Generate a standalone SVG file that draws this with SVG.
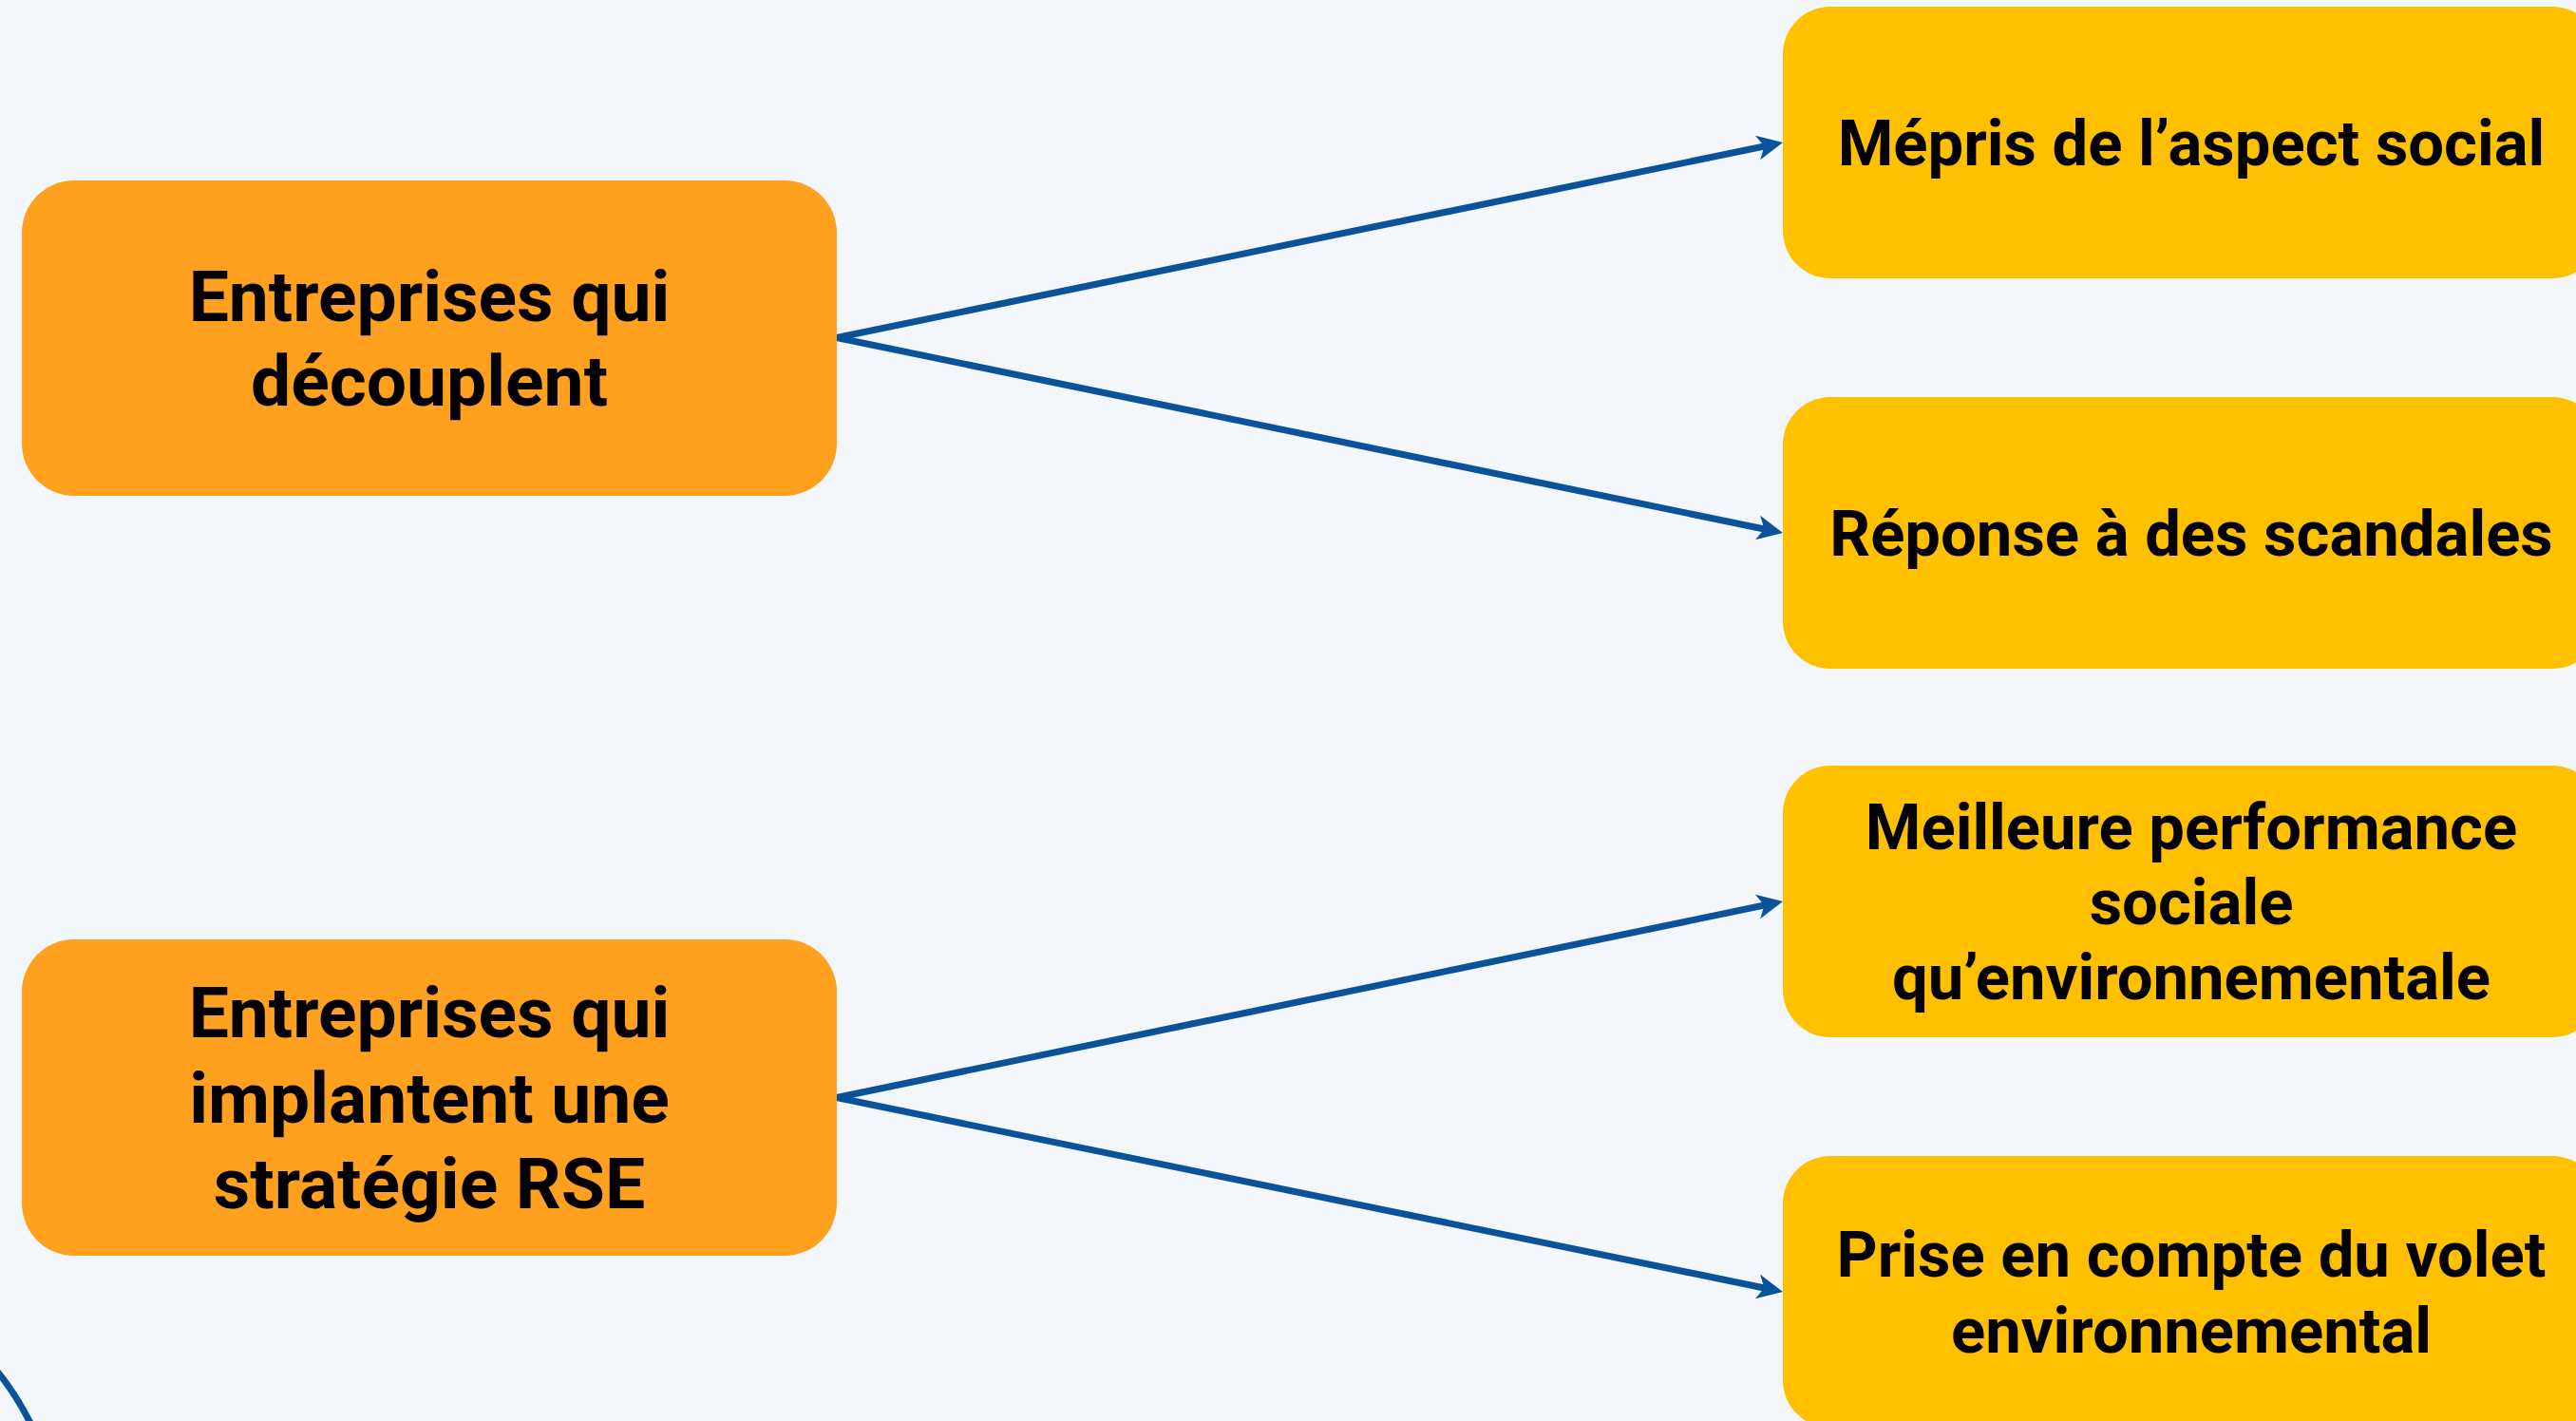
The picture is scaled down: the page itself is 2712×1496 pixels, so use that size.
<svg xmlns="http://www.w3.org/2000/svg" width="2712" height="1496" viewBox="0 0 2712 1496">
  <style>
    .src rect { fill: #FFA01F; }
    .dst rect { fill: #FFC000; }
    text { font-family: Roboto, "Liberation Sans", sans-serif; font-weight: bold; fill: #000; text-anchor: middle; }
    .src text { font-size: 75px; }
    .dst text { font-size: 67px; }
    .edge { stroke: #0A5299; stroke-width: 7; fill: none; }
  </style>
  <defs>
    <marker id="arrow" markerUnits="userSpaceOnUse" viewBox="-13 -14 30 28" markerWidth="30" markerHeight="28" refX="0" refY="0" orient="auto">
      <path d="M15,0 L-12,-13 L-5,0 L-12,13 Z" fill="#0A5299"/>
    </marker>
  </defs>
  <rect width="2712" height="1496" fill="#F3F7FC"/>

  <g id="connectors">
    <line class="edge" x1="881" y1="355.5" x2="1862.3" y2="153" marker-end="url(#arrow)"/>
    <line class="edge" x1="881" y1="355.5" x2="1862.3" y2="558" marker-end="url(#arrow)"/>
    <line class="edge" x1="881" y1="1155.5" x2="1862.3" y2="952" marker-end="url(#arrow)"/>
    <line class="edge" x1="881" y1="1155.5" x2="1862.3" y2="1357" marker-end="url(#arrow)"/>
    <path class="edge" d="M-6,1440 Q16,1466 34,1502"/>
  </g>

  <g id="node-decouplent" class="src">
    <rect x="23" y="190" width="858" height="332" rx="55" ry="55"/>
    <text x="452" y="338">Entreprises qui</text>
    <text x="452" y="427">découplent</text>
  </g>

  <g id="node-rse" class="src">
    <rect x="23" y="989" width="858" height="333" rx="55" ry="55"/>
    <text x="452" y="1092">Entreprises qui</text>
    <text x="452" y="1182">implantent une</text>
    <text x="452" y="1272">stratégie RSE</text>
  </g>

  <g id="node-mepris" class="dst">
    <rect x="1877" y="7" width="860" height="286" rx="50" ry="50"/>
    <text x="2307" y="174">Mépris de l’aspect social</text>
  </g>

  <g id="node-scandales" class="dst">
    <rect x="1877" y="418" width="860" height="286" rx="50" ry="50"/>
    <text x="2307" y="585">Réponse à des scandales</text>
  </g>

  <g id="node-performance" class="dst">
    <rect x="1877" y="806" width="860" height="286" rx="50" ry="50"/>
    <text x="2307" y="894">Meilleure performance</text>
    <text x="2307" y="973">sociale</text>
    <text x="2307" y="1052">qu’environnementale</text>
  </g>

  <g id="node-environnement" class="dst">
    <rect x="1877" y="1217" width="860" height="286" rx="50" ry="50"/>
    <text x="2307" y="1344">Prise en compte du volet</text>
    <text x="2307" y="1424">environnemental</text>
  </g>
</svg>
